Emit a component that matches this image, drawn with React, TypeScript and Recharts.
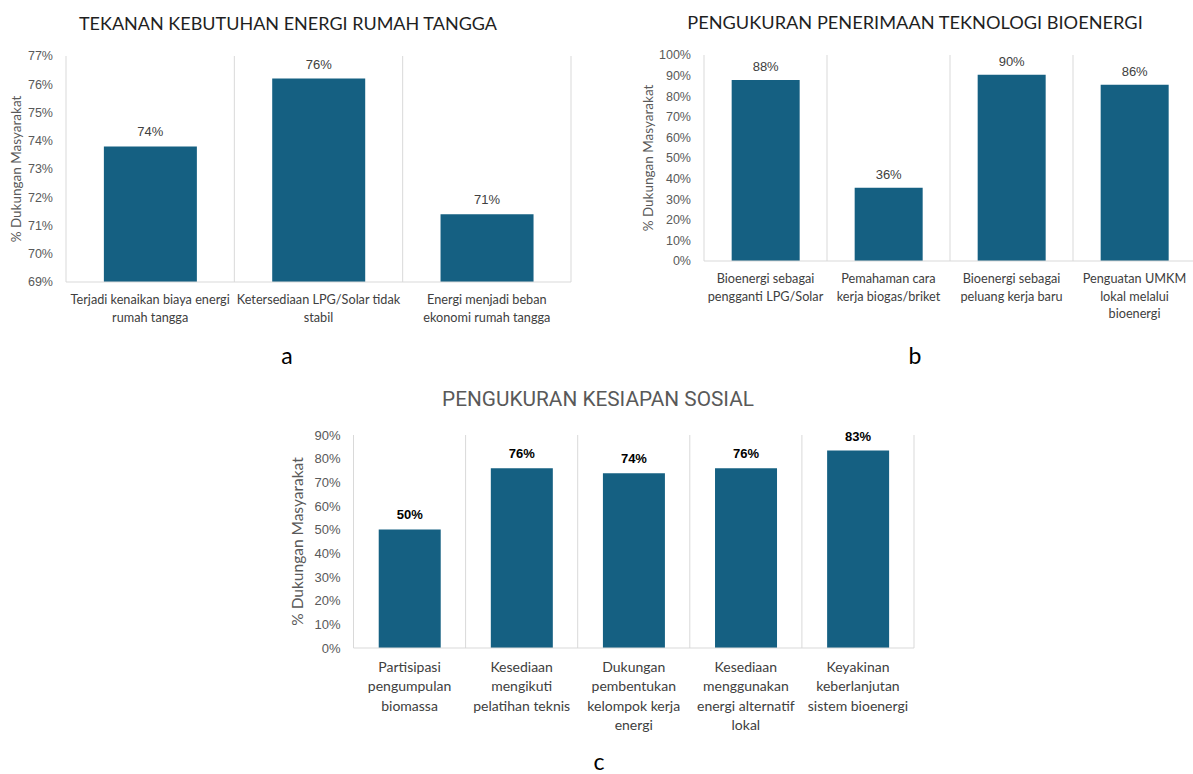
import React from 'react';
import { BarChart, Bar, XAxis, YAxis, CartesianGrid, LabelList } from 'recharts';

const BAR_COLOR = '#156082';
const GRID_COLOR = '#d9d9d9';

// a: household energy pressure
const kebutuhanLabels = [
  'Terjadi kenaikan biaya energi\nrumah tangga',
  'Ketersediaan LPG/Solar tidak\nstabil',
  'Energi menjadi beban\nekonomi rumah tangga',
];
const kebutuhanValues = [73.8, 76.2, 71.4];
const kebutuhanTicks = [69, 70, 71, 72, 73, 74, 75, 76, 77];

// b: acceptance of bioenergy technology
const penerimaanLabels = [
  'Bioenergi sebagai\npengganti LPG/Solar',
  'Pemahaman cara\nkerja biogas/briket',
  'Bioenergi sebagai\npeluang kerja baru',
  'Penguatan UMKM\nlokal melalui\nbioenergi',
];
const penerimaanValues = [87.9, 35.6, 90.4, 85.6];
const penerimaanTicks = [0, 10, 20, 30, 40, 50, 60, 70, 80, 90, 100];

// c: social readiness
const kesiapanLabels = [
  'Partisipasi\npengumpulan\nbiomassa',
  'Kesediaan\nmengikuti\npelatihan teknis',
  'Dukungan\npembentukan\nkelompok kerja\nenergi',
  'Kesediaan\nmenggunakan\nenergi alternatif\nlokal',
  'Keyakinan\nkeberlanjutan\nsistem bioenergi',
];
const kesiapanValues = [50.1, 75.9, 73.8, 75.9, 83.4];
const kesiapanTicks = [0, 10, 20, 30, 40, 50, 60, 70, 80, 90];

const Y_TITLE = '% Dukungan Masyarakat';

const CategoryTick = (props: any) => {
  const { x, y, payload, first, lineHeight, fontSize } = props;
  const lines = String(payload.value).split('\n');
  return (
    <text
      x={x}
      y={y + first}
      textAnchor="middle"
      fill="#404040"
      style={{ fontFamily: 'Lato', fontSize }}
    >
      {lines.map((l, i) => (
        <tspan key={i} x={x} dy={i === 0 ? 0 : lineHeight}>
          {l}
        </tspan>
      ))}
    </text>
  );
};

interface PanelProps {
  left: number;
  top: number;
  width: number;
  height: number;
  margin: { top: number; right: number; bottom: number; left: number };
  yWidth: number;
  xHeight: number;
  labels: string[];
  values: number[];
  ticks: number[];
  first: number;
  lineHeight: number;
  catFont: number;
  tickFont: number;
  titleFont: number;
  labelOffset: number;
  bold?: boolean;
  titleOffset: number;
}

const Panel = (p: PanelProps) => {
  const rows = p.labels.map((name, i) => ({ name, value: p.values[i] }));
  const n = rows.length;
  return (
    <div style={{ position: 'absolute', left: p.left, top: p.top }}>
      <BarChart width={p.width} height={p.height} data={rows} margin={p.margin} barCategoryGap="22.5%">
        <CartesianGrid
          horizontal={false}
          stroke={GRID_COLOR}
          verticalCoordinatesGenerator={({ offset }: any) =>
            Array.from({ length: n + 1 }, (_, i) => offset.left + (i * offset.width) / n)
          }
        />
        <XAxis
          dataKey="name"
          interval={0}
          height={p.xHeight}
          tickLine={false}
          tickSize={0}
          tickMargin={0}
          axisLine={{ stroke: GRID_COLOR }}
          tick={<CategoryTick first={p.first} lineHeight={p.lineHeight} fontSize={p.catFont} />}
        />
        <YAxis
          width={p.yWidth}
          domain={[p.ticks[0], p.ticks[p.ticks.length - 1]]}
          ticks={p.ticks}
          interval={0}
          axisLine={false}
          tickLine={false}
          tickSize={6}
          tickMargin={7}
          tickFormatter={(v: number) => `${v}%`}
          tick={{ fill: '#595959', fontSize: p.tickFont, fontFamily: 'Liberation Sans' }}
          label={{
            value: Y_TITLE,
            angle: -90,
            position: 'insideLeft',
            offset: p.titleOffset,
            style: { textAnchor: 'middle', fill: '#595959', fontSize: p.titleFont, fontFamily: 'Lato' },
          }}
        />
        <Bar dataKey="value" fill={BAR_COLOR} isAnimationActive={false}>
          <LabelList
            dataKey="value"
            position="top"
            offset={p.labelOffset}
            formatter={(v: number) => `${Math.round(v)}%`}
            style={{
              fill: p.bold ? '#000000' : '#404040',
              fontWeight: p.bold ? 700 : 400,
              fontSize: 13,
              fontFamily: 'Liberation Sans',
            }}
          />
        </Bar>
      </BarChart>
    </div>
  );
};

const textBox = (x: number, y: number, style: React.CSSProperties, text: string) => (
  <div
    style={{
      position: 'absolute',
      left: x - 400,
      top: y - 11,
      width: 800,
      height: 22,
      lineHeight: '22px',
      textAlign: 'center',
      whiteSpace: 'nowrap',
      ...style,
    }}
  >
    {text}
  </div>
);

export default function App() {
  return (
    <div
      style={{
        position: 'absolute',
        left: 0,
        top: 0,
        width: 1193,
        height: 774,
        overflow: 'hidden',
        background: '#ffffff',
      }}
    >
      {textBox(288, 23, { fontFamily: 'Lato', fontSize: 18, color: '#1f1f1f' }, 'TEKANAN KEBUTUHAN ENERGI RUMAH TANGGA')}
      {textBox(915, 22, { fontFamily: 'Lato', fontSize: 18.2, color: '#1f1f1f' }, 'PENGUKURAN PENERIMAAN TEKNOLOGI BIOENERGI')}
      {textBox(598, 399, { fontFamily: 'Roboto', fontSize: 20.8, color: '#595959' }, 'PENGUKURAN KESIAPAN SOSIAL')}
      {textBox(287, 355, { fontFamily: 'Lato', fontSize: 23, color: '#000000' }, 'a')}
      {textBox(915, 355, { fontFamily: 'Lato', fontSize: 23, color: '#000000' }, 'b')}

      <Panel
        left={0}
        top={0}
        width={600}
        height={340}
        margin={{ top: 56, right: 29, bottom: 8, left: 0 }}
        yWidth={66}
        xHeight={50}
        labels={kebutuhanLabels}
        values={kebutuhanValues}
        ticks={kebutuhanTicks}
        first={22}
        lineHeight={18}
        catFont={12.7}
        tickFont={12.5}
        titleFont={13.5}
        labelOffset={10}
        titleOffset={16}
      />
      <Panel
        left={600}
        top={0}
        width={596}
        height={340}
        margin={{ top: 55, right: 0, bottom: 19, left: 0 }}
        yWidth={104}
        xHeight={60}
        labels={penerimaanLabels}
        values={penerimaanValues}
        ticks={penerimaanTicks}
        first={22}
        lineHeight={17.5}
        catFont={12.7}
        tickFont={12.5}
        titleFont={13.5}
        labelOffset={9}
        titleOffset={48}
      />
      <Panel
        left={240}
        top={380}
        width={720}
        height={360}
        margin={{ top: 55, right: 46, bottom: 2, left: 0 }}
        yWidth={113.5}
        xHeight={90}
        labels={kesiapanLabels}
        values={kesiapanValues}
        ticks={kesiapanTicks}
        first={24}
        lineHeight={19.3}
        catFont={14}
        tickFont={13}
        titleFont={15.5}
        labelOffset={10}
        bold
        titleOffset={57}
      />
      {textBox(599, 761, { fontFamily: 'Lato', fontSize: 23, color: '#000000' }, 'c')}
    </div>
  );
}
